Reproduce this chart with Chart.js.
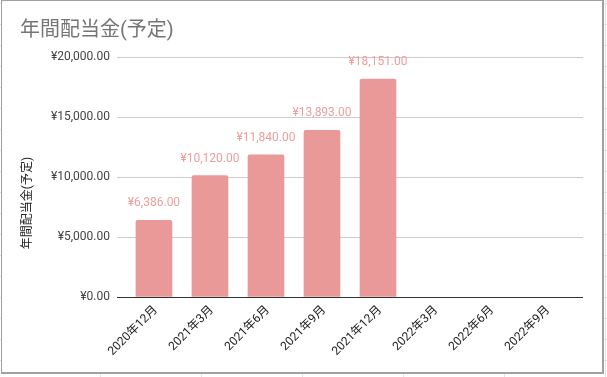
<!DOCTYPE html>
<html>
<head>
<meta charset="utf-8">
<script src="https://cdn.jsdelivr.net/npm/chart.js"></script>
<style>
    html, body { margin: 0; padding: 0; width: 607px; height: 377px; overflow: hidden; }
    body {
        position: relative;
        background-color: #fff;
        background-image:
            linear-gradient(to right, #e2e2e2 1px, transparent 1px),
            linear-gradient(to bottom, #e2e2e2 1px, transparent 1px);
        background-size: 101px 21px, 21px 21px;
        background-position: 100px 0, 0 3px;
    }
    #frame {
        position: absolute; left: 1px; top: 0; width: 603px; height: 374px;
        box-sizing: border-box; background: #fff;
        border: 1px solid #a0a0a0; border-right-width: 2px; border-bottom-width: 2px;
    }
    #chart { position: absolute; left: 0; top: 0; }
</style>
</head>
<body>
<div id="frame"></div>
<canvas id="chart" width="607" height="377"></canvas>
<script>
    const chartTitle = '年間配当金(予定)';
    const yAxisTitle = '年間配当金(予定)';
    const categories = ['2020年12月', '2021年3月', '2021年6月', '2021年9月', '2021年12月', '2022年3月', '2022年6月', '2022年9月'];
    const dividends = [6386, 10120, 11840, 13893, 18151, null, null, null];
    const yTicks = [0, 5000, 10000, 15000, 20000];

    const FONT = "Roboto, 'Noto Sans CJK JP', sans-serif";
    const yen = v => '¥' + v.toLocaleString('en-US', { minimumFractionDigits: 2, maximumFractionDigits: 2 });

    // title, rotated axis title and value labels above the bars
    const decorations = {
        id: 'decorations',
        afterDraw(chart) {
            const ctx = chart.ctx;
            ctx.save();
            ctx.fillStyle = '#757575';
            ctx.font = '20px ' + FONT;
            ctx.textAlign = 'left';
            ctx.textBaseline = 'middle';
            ctx.fillText(chartTitle, 20, 31);

            ctx.translate(28, 203);
            ctx.rotate(-Math.PI / 2);
            ctx.fillStyle = '#222';
            ctx.font = '12px ' + FONT;
            ctx.textAlign = 'center';
            ctx.fillText(yAxisTitle, 0, 0);
            ctx.restore();

            ctx.save();
            ctx.fillStyle = '#ef9d9d';
            ctx.font = '12px ' + FONT;
            ctx.textAlign = 'center';
            ctx.textBaseline = 'middle';
            chart.getDatasetMeta(0).data.forEach((bar, i) => {
                if (dividends[i] == null) return;
                ctx.fillText(yen(dividends[i]), bar.x, bar.y - 17);
            });
            ctx.restore();
        }
    };

    new Chart(document.getElementById('chart'), {
        type: 'bar',
        data: {
            datasets: [{
                label: chartTitle,
                data: dividends.map((v, i) => ({ x: i, y: v })),
                backgroundColor: '#ea9999',
                barThickness: 36,
                borderRadius: { topLeft: 2, topRight: 2 },
                borderSkipped: 'bottom'
            }]
        },
        options: {
            responsive: false,
            animation: false,
            layout: { padding: { left: 0, top: 57, right: 24, bottom: 0 } },
            plugins: {
                legend: { display: false },
                title: { display: false },
                tooltip: { enabled: false }
            },
            scales: {
                x: {
                    type: 'linear',
                    offset: false,
                    min: -0.66,
                    max: 7.66,
                    afterBuildTicks: scale => { scale.ticks = categories.map((c, i) => ({ value: i })); },
                    afterFit: scale => { scale.height = 80; },
                    grid: { display: false, drawTicks: false, offset: false },
                    border: { display: false },
                    ticks: {
                        autoSkip: false,
                        minRotation: 45,
                        maxRotation: 45,
                        padding: 6,
                        labelOffset: 2,
                        color: '#222',
                        font: { family: FONT, size: 12 },
                        callback: v => categories[v]
                    }
                },
                y: {
                    min: 0,
                    max: 20000,
                    afterBuildTicks: scale => { scale.ticks = yTicks.map(v => ({ value: v })); },
                    afterFit: scale => { scale.width = 117; },
                    grid: {
                        drawTicks: false,
                        color: c => c.tick.value === 0 ? '#333' : '#cccccc'
                    },
                    border: { display: false },
                    ticks: {
                        padding: 7,
                        color: '#444',
                        font: { family: FONT, size: 12 },
                        callback: v => yen(v)
                    }
                }
            }
        },
        plugins: [decorations]
    });
</script>
</body>
</html>
